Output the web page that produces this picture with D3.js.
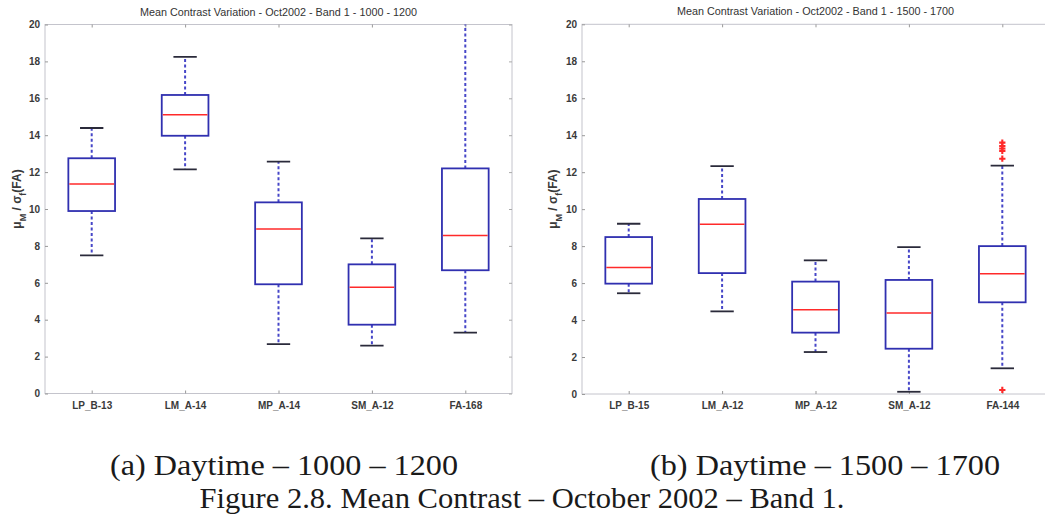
<!DOCTYPE html>
<html>
<head>
<meta charset="utf-8">
<script src="https://cdn.jsdelivr.net/npm/d3@7"></script>
<style>
  html, body { margin: 0; padding: 0; background: #fff; }
  svg { display: block; }
  .tick-label { font-family: "Liberation Sans", Arial, sans-serif; font-size: 10px; fill: #3a3a3a; font-weight: bold; }
  .title { font-family: "Liberation Sans", Arial, sans-serif; font-size: 10.8px; fill: #333; }
  .caption { font-family: "Liberation Serif", "Times New Roman", serif; font-size: 29px; fill: #1a1a1a; }
</style>
</head>
<body>
<svg id="fig" width="1045" height="523"></svg>
<script>
// Panel (a): 1000 - 1200
const categoriesA = ["LP_B-13", "LM_A-14", "MP_A-14", "SM_A-12", "FA-168"];
const lowerA  = [7.49, 12.15, 2.68, 2.59, 3.30];
const q1A     = [9.89, 13.97, 5.92, 3.73, 6.68];
const medianA = [11.35, 15.11, 8.92, 5.76, 8.57];
const q3A     = [12.75, 16.18, 10.36, 7.00, 12.20];
const upperA  = [14.39, 18.24, 12.57, 8.41, 20.45];
const outliersA = [[], [], [], [], []];

// Panel (b): 1500 - 1700
const categoriesB = ["LP_B-15", "LM_A-12", "MP_A-12", "SM_A-12", "FA-144"];
const lowerB  = [5.45, 4.47, 2.27, 0.12, 1.39];
const q1B     = [5.97, 6.54, 3.32, 2.45, 4.96];
const medianB = [6.85, 9.18, 4.56, 4.38, 6.51];
const q3B     = [8.49, 10.55, 6.08, 6.17, 8.00];
const upperB  = [9.21, 12.33, 7.23, 7.95, 12.35];
const outliersB = [[], [], [], [], [13.60, 13.42, 13.28, 13.15, 12.73, 0.22]];

const yTicks = [0, 2, 4, 6, 8, 10, 12, 14, 16, 18, 20];
const titleA = "Mean Contrast Variation - Oct2002 - Band 1 - 1000 - 1200";
const titleB = "Mean Contrast Variation - Oct2002 - Band 1 - 1500 - 1700";
const captionA = "(a) Daytime \u2013 1000 \u2013 1200";
const captionB = "(b) Daytime \u2013 1500 \u2013 1700";
const figureCaption = "Figure 2.8. Mean Contrast \u2013 October 2002 \u2013 Band 1.";

const svg = d3.select("#fig");

const BOX_BLUE = "#3030b0";
const WHISKER_BLUE = "#4646c8";
const MEDIAN_RED = "#ff2a2a";
const CAP_DARK = "#2a2a3a";
const FRAME = "#c4c4cc";

function drawPanel(opts) {
  const { id, left, right, top, bottom, cats, lo, q1, med, q3, hi, outl, title, labelX } = opts;
  const g = svg.append("g").attr("id", id);

  const x = d3.scaleLinear().domain([0.5, cats.length + 0.5]).range([left, right]);
  const y = d3.scaleLinear().domain([0, 20]).range([bottom, top]);

  g.append("clipPath").attr("id", id + "-clip")
    .append("rect").attr("x", left).attr("y", top)
    .attr("width", right - left).attr("height", bottom - top);

  // frame
  g.append("rect")
    .attr("x", left).attr("y", top)
    .attr("width", right - left).attr("height", bottom - top)
    .attr("fill", "none").attr("stroke", FRAME).attr("stroke-width", 1);

  // y axis with inward ticks on both sides
  const yAxis = d3.axisLeft(y).tickValues(yTicks).tickSize(-3).tickPadding(5).tickFormat(d3.format("d"));
  const ya = g.append("g").attr("transform", `translate(${left},0)`).call(yAxis);
  ya.select(".domain").remove();
  ya.selectAll("line").attr("stroke", "#999");
  ya.selectAll("text").attr("class", "tick-label").attr("font-family", null).attr("font-size", null);

  const yAxisR = d3.axisRight(y).tickValues(yTicks).tickSize(-3).tickFormat("");
  const yr = g.append("g").attr("transform", `translate(${right},0)`).call(yAxisR);
  yr.select(".domain").remove();
  yr.selectAll("line").attr("stroke", "#aaa");

  // x axis (category labels) with inward ticks top and bottom
  const idx = d3.range(1, cats.length + 1);
  const xAxis = d3.axisBottom(x).tickValues(idx).tickSize(-3).tickPadding(8).tickFormat(i => cats[i - 1]);
  const xa = g.append("g").attr("transform", `translate(0,${bottom})`).call(xAxis);
  xa.select(".domain").remove();
  xa.selectAll("line").attr("stroke", "#999");
  xa.selectAll("text").attr("class", "tick-label").attr("font-family", null).attr("font-size", null);

  const xAxisT = d3.axisTop(x).tickValues(idx).tickSize(-3).tickFormat("");
  const xt = g.append("g").attr("transform", `translate(0,${top})`).call(xAxisT);
  xt.select(".domain").remove();
  xt.selectAll("line").attr("stroke", "#999");

  // title
  g.append("text").attr("class", "title")
    .attr("x", (left + right) / 2).attr("y", top - 9)
    .attr("text-anchor", "middle").text(title);

  // y label: mu_M / sigma_f(FA)
  const yl = g.append("text").attr("class", "tick-label")
    .attr("transform", `translate(${labelX},${(top + bottom) / 2 - 10}) rotate(-90)`)
    .attr("text-anchor", "middle").style("font-size", "12px");
  yl.append("tspan").text("\u03bc");
  yl.append("tspan").attr("baseline-shift", "sub").style("font-size", "9px").text("M");
  yl.append("tspan").text(" / \u03c3");
  yl.append("tspan").attr("baseline-shift", "sub").style("font-size", "9px").text("f");
  yl.append("tspan").text("(FA)");

  const data = cats.map((c, i) => ({ pos: i + 1, lo: lo[i], q1: q1[i], med: med[i], q3: q3[i], hi: hi[i], out: outl[i] }));
  const plot = g.append("g").attr("clip-path", `url(#${id}-clip)`);
  const boxW = 0.5, capW = 0.25;

  const b = plot.selectAll("g.box").data(data).join("g").attr("class", "box");

  // whiskers
  b.append("line")
    .attr("x1", d => x(d.pos)).attr("x2", d => x(d.pos))
    .attr("y1", d => y(d.q3)).attr("y2", d => y(d.hi))
    .attr("stroke", WHISKER_BLUE).attr("stroke-width", 2).attr("stroke-dasharray", "3,2.5");
  b.append("line")
    .attr("x1", d => x(d.pos)).attr("x2", d => x(d.pos))
    .attr("y1", d => y(d.q1)).attr("y2", d => y(d.lo))
    .attr("stroke", WHISKER_BLUE).attr("stroke-width", 2).attr("stroke-dasharray", "3,2.5");

  // caps
  b.append("line")
    .attr("x1", d => x(d.pos - capW / 2)).attr("x2", d => x(d.pos + capW / 2))
    .attr("y1", d => y(d.hi)).attr("y2", d => y(d.hi))
    .attr("stroke", CAP_DARK).attr("stroke-width", 1.8);
  b.append("line")
    .attr("x1", d => x(d.pos - capW / 2)).attr("x2", d => x(d.pos + capW / 2))
    .attr("y1", d => y(d.lo)).attr("y2", d => y(d.lo))
    .attr("stroke", CAP_DARK).attr("stroke-width", 1.8);

  // boxes
  b.append("rect")
    .attr("x", d => x(d.pos - boxW / 2)).attr("width", d => x(d.pos + boxW / 2) - x(d.pos - boxW / 2))
    .attr("y", d => y(d.q3)).attr("height", d => y(d.q1) - y(d.q3))
    .attr("fill", "none").attr("stroke", BOX_BLUE).attr("stroke-width", 1.8);

  // medians
  b.append("line")
    .attr("x1", d => x(d.pos - boxW / 2) + 1).attr("x2", d => x(d.pos + boxW / 2) - 1)
    .attr("y1", d => y(d.med)).attr("y2", d => y(d.med))
    .attr("stroke", MEDIAN_RED).attr("stroke-width", 1.5);

  // outliers as red plus markers
  const outs = data.flatMap(d => d.out.map(v => ({ pos: d.pos, v })));
  const sym = d3.symbol().type(d3.symbolCross).size(22);
  plot.selectAll("path.out").data(outs).join("path").attr("class", "out")
    .attr("transform", d => `translate(${x(d.pos)},${y(d.v)})`)
    .attr("d", sym).attr("fill", MEDIAN_RED);
}

drawPanel({ id: "pa", left: 45, right: 512, top: 24.5, bottom: 393.5,
  cats: categoriesA, lo: lowerA, q1: q1A, med: medianA, q3: q3A, hi: upperA, outl: outliersA,
  title: titleA, labelX: 21 });

drawPanel({ id: "pb", left: 582, right: 1049, top: 24.3, bottom: 394,
  cats: categoriesB, lo: lowerB, q1: q1B, med: medianB, q3: q3B, hi: upperB, outl: outliersB,
  title: titleB, labelX: 557 });

// figure captions, set to their printed widths
function caption(txt, cx, baseline, width) {
  svg.append("text").attr("class", "caption")
    .attr("x", cx - width / 2).attr("y", baseline)
    .attr("textLength", width).attr("lengthAdjust", "spacingAndGlyphs")
    .text(txt);
}
caption(captionA, 284, 475, 348);
caption(captionB, 825, 475, 350);
caption(figureCaption, 522, 508, 645);
</script>
</body>
</html>
